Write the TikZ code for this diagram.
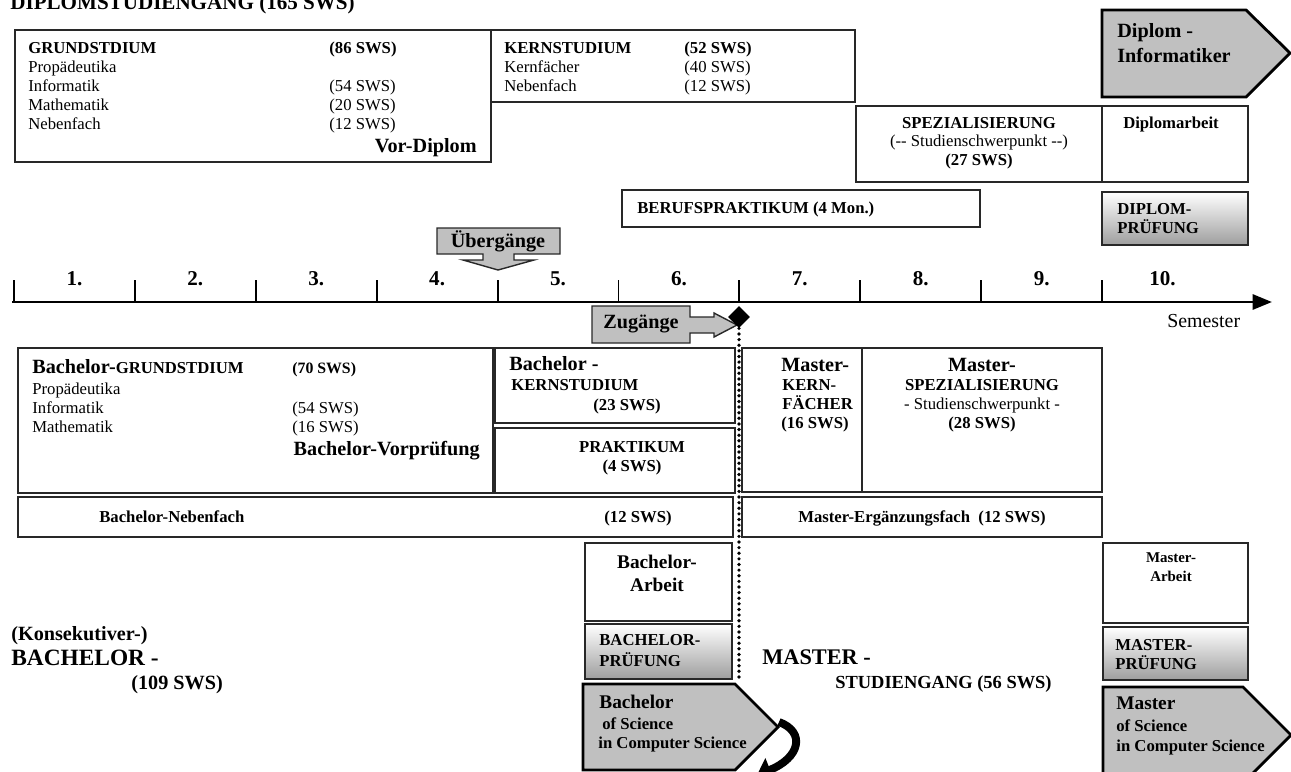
\documentclass[tikz,border=0pt]{standalone}
\usepackage{fontspec}
\setmainfont{Liberation Serif}
\usetikzlibrary{arrows.meta, shapes.geometric}
\definecolor{boxgray}{RGB}{192,192,192}
\definecolor{linegray}{RGB}{40,40,40}

\begin{document}
\begin{tikzpicture}[x=0.02cm, y=-0.02cm,
                box/.style={draw=linegray, line width=0.8pt, inner sep=0pt},
                wh/.style 2 args={minimum width=#1*0.02cm, minimum height=#2*0.02cm},
                exam/.style={box, top color=white, bottom color=black!38},
                txt/.style={inner sep=0pt, anchor=base west, font=\fontsize{9.5}{11}\selectfont},
                txtb/.style={txt, font=\bfseries\fontsize{9.5}{11}\selectfont},
                big/.style={txt, font=\bfseries\fontsize{11.5}{13}\selectfont},
                pent/.style={draw=black, line width=1.6pt, fill=boxgray},
                callout/.style={draw=linegray, line width=0.8pt, fill=boxgray}]
                \useasboundingbox (0,0) rectangle (1291,771);

                \node[txtb, font=\bfseries\fontsize{12}{14}\selectfont] (title)
                      at (10,9) {DIPLOMSTUDIENGANG (165 SWS)};

                \node[box, wh={476}{132}] (grund) at (253,96) {};
                \node[txtb] (grundT) at (28,53) {GRUNDSTDIUM};
                \node[txtb] (grundS) at (329,53) {(86 SWS)};
                \foreach \y/\t/\s in {72/Propädeutika/, 91/Informatik/(54 SWS),
                                      110/Mathematik/(20 SWS), 129/Nebenfach/(12 SWS)} {
                    \node[txt] (gl\y) at (28,\y) {\t};
                    \node[txt] (gs\y) at (329,\y) {\s};
                }
                \node[big, anchor=base east] (vordip) at (477,152) {Vor-Diplom};

                \node[box, wh={364}{72}] (kern) at (673,66) {};
                \node[txtb] (kernT) at (504,53) {KERNSTUDIUM};
                \node[txtb] (kernS) at (684,53) {(52 SWS)};
                \foreach \y/\t/\s in {72/Kernfächer/(40 SWS), 91/Nebenfach/(12 SWS)} {
                    \node[txt] (kl\y) at (504,\y) {\t};
                    \node[txt] (ks\y) at (684,\y) {\s};
                }

                \node[box, wh={246}{76}] (spez) at (979,144) {};
                \node[txtb, anchor=base] (spezT) at (979,128) {SPEZIALISIERUNG};
                \node[txt, anchor=base] (spezU) at (979,146) {(-{}- Studienschwerpunkt -{}-)};
                \node[txtb, anchor=base] (spezS) at (979,165) {(27 SWS)};
                \node[box, wh={146}{76}] (dipa) at (1175,144) {};
                \node[txtb, anchor=base] (dipaT) at (1171,128) {Diplomarbeit};

                \draw[pent] (1102,10) -- (1246,10) -- (1290,53) -- (1246,97) -- (1102,97) -- cycle;
                \node[big] (dipl1) at (1117,37) {Diplom -};
                \node[big] (dipl2) at (1117,62) {Informatiker};

                \node[box, wh={358}{37}] (beruf) at (801,208.5) {};
                \node[txtb] (berufT) at (637,213) {BERUFSPRAKTIKUM (4 Mon.)};

                \node[exam, wh={146}{53}] (dipp) at (1175,218.5) {};
                \node[txtb] (dipp1) at (1117,214) {DIPLOM-};
                \node[txtb] (dipp2) at (1117,233) {PRÜFUNG};

                \draw[callout] (437,228) -- (560,228) -- (560,254) -- (514,254) -- (514,260)
                      -- (534,260) -- (498,270) -- (463,260) -- (483,260) -- (483,254)
                      -- (437,254) -- cycle;
                \node[big, anchor=center] (ueber) at (498,241) {Übergänge};

                \coordinate (t0) at (12,302);
                \coordinate (tend) at (1272,302);
                \draw[line width=1.7pt, -{Triangle[length=11pt, width=8.5pt]}] (t0) -- (tend);
                \foreach \i in {0,...,9}
                    \draw[line width=1.1pt] ({14+120.9*\i},302) -- ({14+120.9*\i},280);
                \foreach \i in {1,...,10}
                    \node[big, anchor=base, font=\bfseries\fontsize{12}{14}\selectfont] (sem\i)
                          at ({14+120.9*(\i-0.5)},285) {\i.};
                \node[txt, font=\fontsize{11.3}{13}\selectfont] (semlbl) at (1167,327) {Semester};

                \draw[callout] (592,306) -- (690,306) -- (690,317) -- (714,317) -- (714,313)
                      -- (737,325) -- (714,337) -- (714,333) -- (690,333) -- (690,343)
                      -- (592,343) -- cycle;
                \node[big, anchor=center] (zu) at (641,324) {Zugänge};
                \node[diamond, fill=black, inner sep=0pt, minimum size=0.44cm] (gate) at (739,317) {};
                \coordinate (dotend) at (739,679);
                \draw[line width=2.1pt, line cap=round, dash pattern=on 0pt off 3.2pt]
                      (gate.south) -- (dotend);

                \node[box, wh={475}{145}] (bgrund) at (255.5,420.5) {};
                \node[txtb] (bgrundT) at (32,373)
                      {{\fontsize{11.5}{13}\selectfont Bachelor-}GRUNDSTDIUM};
                \node[txtb, font=\bfseries\fontsize{9}{11}\selectfont] (bgrundS) at (292,373) {(70 SWS)};
                \foreach \y/\t/\s in {394/Propädeutika/, 413/Informatik/(54 SWS), 432/Mathematik/(16 SWS)} {
                    \node[txt] (bl\y) at (32,\y) {\t};
                    \node[txt] (bs\y) at (292,\y) {\s};
                }
                \node[big, anchor=base east] (bvor) at (480,455) {Bachelor-Vorprüfung};

                \node[box, wh={240}{75}] (bkern) at (615,385.5) {};
                \node[big] (bkern1) at (509,370) {Bachelor -};
                \node[txtb] (bkern2) at (511,390) {KERNSTUDIUM};
                \node[txtb, anchor=base] (bkern3) at (627,410) {(23 SWS)};
                \node[box, wh={240}{65}] (prakt) at (615,460.5) {};
                \node[txtb, anchor=base] (prakt1) at (632,452) {PRAKTIKUM};
                \node[txtb, anchor=base] (prakt2) at (632,471) {(4 SWS)};

                \node[box, wh={715}{40}] (bneben) at (375.5,517) {};
                \node[txtb] (bneben1) at (99,522) {Bachelor-Nebenfach};
                \node[txtb, anchor=base] (bneben2) at (638,522) {(12 SWS)};

                \node[box, wh={120}{144}] (mkern) at (802,420) {};
                \node[big] (mkern1) at (781,371) {Master-};
                \node[txtb] (mkern2) at (782,390) {KERN-};
                \node[txtb] (mkern3) at (782,409) {FÄCHER};
                \node[txtb] (mkern4) at (781,428) {(16 SWS)};
                \node[box, wh={240}{144}] (mspez) at (982,420) {};
                \node[big, anchor=base] (mspez1) at (982,371) {Master-};
                \node[txtb, anchor=base] (mspez2) at (982,390) {SPEZIALISIERUNG};
                \node[txt, anchor=base] (mspez3) at (982,409) {- Studienschwerpunkt -};
                \node[txtb, anchor=base] (mspez4) at (982,428) {(28 SWS)};

                \node[box, wh={360}{40}] (merg) at (922,517) {};
                \node[txtb, anchor=base] (merg1) at (922,522) {Master-Ergänzungsfach~ (12 SWS)};

                \node[box, wh={147}{78}] (barb) at (658.5,582) {};
                \node[big, anchor=base, font=\bfseries\fontsize{11}{13}\selectfont] (barb1) at (657,568) {Bachelor-};
                \node[big, anchor=base, font=\bfseries\fontsize{11}{13}\selectfont] (barb2) at (657,591) {Arbeit};
                \node[exam, wh={147}{55}] (bpruef) at (658.5,651.5) {};
                \node[txtb] (bpruef1) at (599,645) {BACHELOR-};
                \node[txtb] (bpruef2) at (599,666) {PRÜFUNG};

                \draw[pent] (583,684) -- (735,684) -- (778,727) -- (735,770) -- (583,770) -- cycle;
                \node[big, font=\bfseries\fontsize{11}{13}\selectfont] (bsc1) at (599,708) {Bachelor};
                \node[txtb] (bsc2) at (602,729) {of Science};
                \node[txtb] (bsc3) at (598,748) {in Computer Science};
                \coordinate (btip) at (779,722);
                \coordinate (bturn) at (757,775);
                \draw[line width=4.5pt, -{Triangle[length=8pt, width=14pt]}]
                      (btip) .. controls (806,732) and (800,758) .. (bturn);

                \node[box, wh={145}{80}] (marb) at (1175.5,583) {};
                \node[txtb, anchor=base, font=\bfseries\fontsize{8.5}{10}\selectfont] (marb1) at (1171,562) {Master-};
                \node[txtb, anchor=base, font=\bfseries\fontsize{8.5}{10}\selectfont] (marb2) at (1171,581) {Arbeit};
                \node[exam, wh={145}{53}] (mpruef) at (1175.5,653.5) {};
                \node[txtb] (mpruef1) at (1115,650) {MASTER-};
                \node[txtb] (mpruef2) at (1115,669) {PRÜFUNG};

                \draw[pent] (1103,687) -- (1243,687) -- (1291,735) -- (1243,783) -- (1103,783) -- cycle;
                \node[big, font=\bfseries\fontsize{11}{13}\selectfont] (msc1) at (1116,709) {Master};
                \node[txtb] (msc2) at (1116,731) {of Science};
                \node[txtb] (msc3) at (1116,751) {in Computer Science};

                \node[big] (kons) at (11,640) {(Konsekutiver-)};
                \node[big, font=\bfseries\fontsize{13.3}{15}\selectfont] (bach) at (11,665) {BACHELOR -};
                \node[big] (bachS) at (131,689) {(109 SWS)};
                \node[big, font=\bfseries\fontsize{12.7}{15}\selectfont] (mast) at (762,664) {MASTER -};
                \node[big, font=\bfseries\fontsize{10.5}{12}\selectfont] (mastS) at (835,688) {STUDIENGANG (56 SWS)};
            \end{tikzpicture}
\end{document}
